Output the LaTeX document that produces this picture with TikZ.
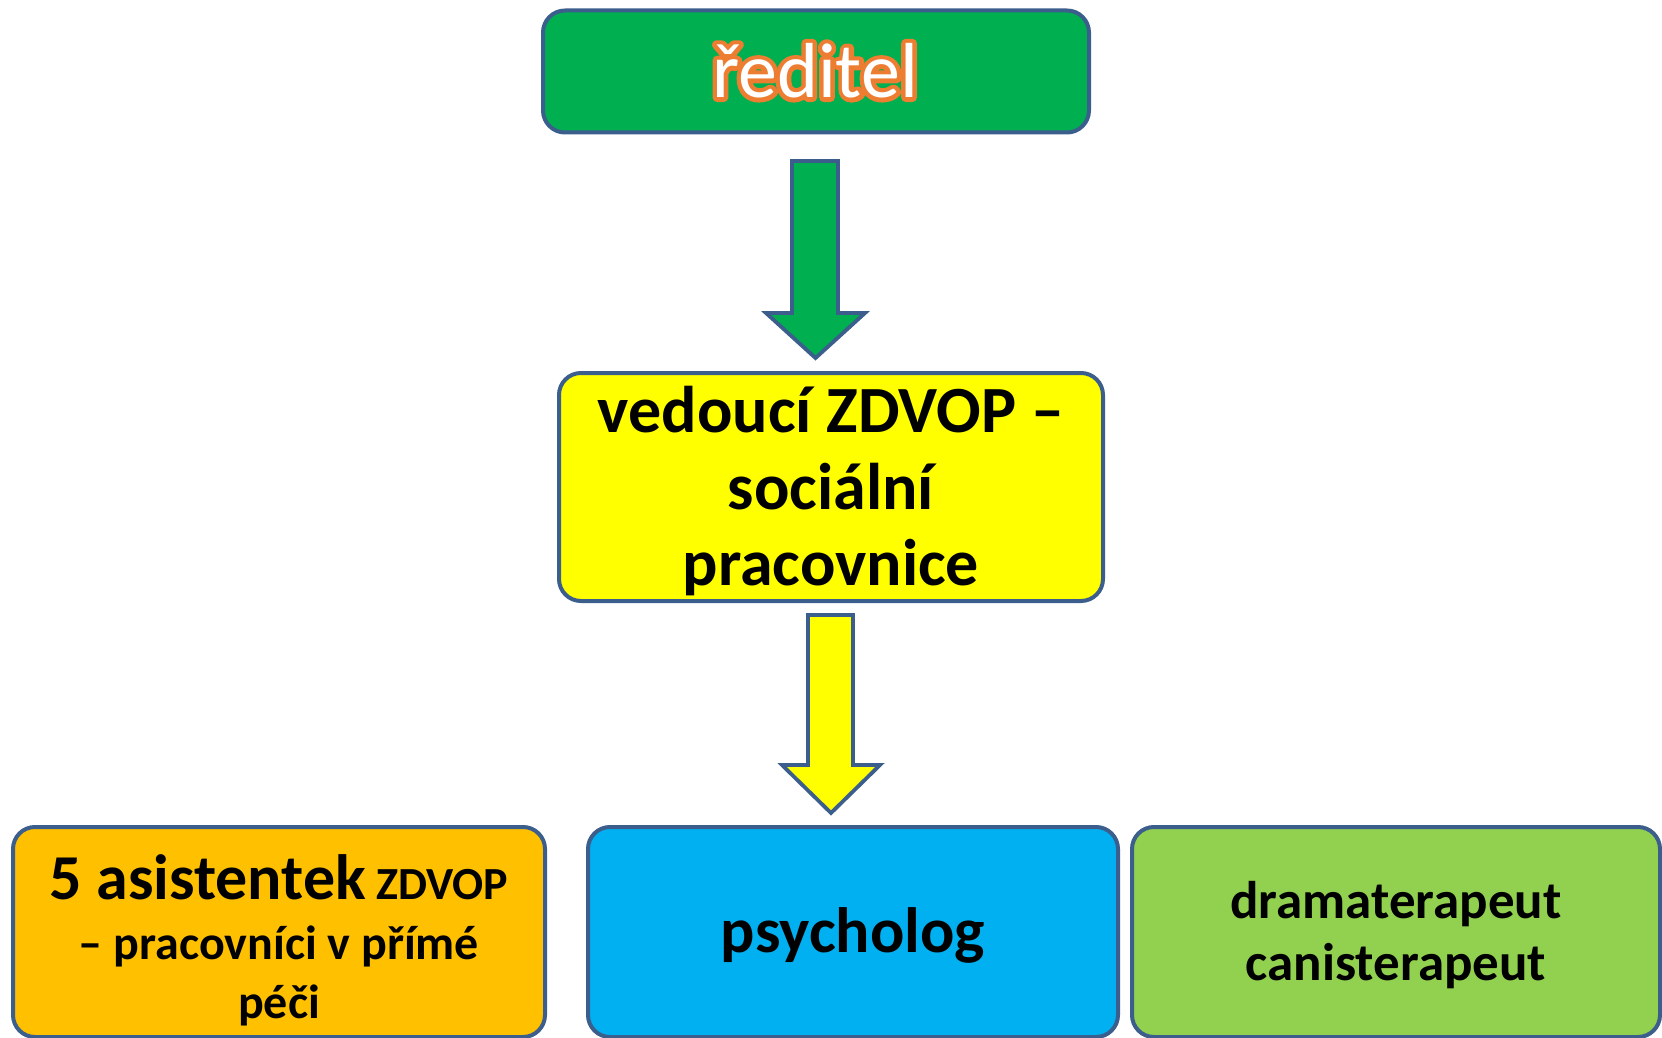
\documentclass[tikz,border=0pt]{standalone}
\usepackage{fontspec}
\setmainfont{Carlito}
\usetikzlibrary{calc}
\definecolor{edge}{RGB}{59,94,140}
\definecolor{cgreen}{RGB}{0,176,80}
\definecolor{cyellow}{RGB}{255,255,0}
\definecolor{corange}{RGB}{255,192,0}
\definecolor{cblue}{RGB}{0,176,240}
\definecolor{clgreen}{RGB}{146,208,80}
\definecolor{glow}{RGB}{237,125,49}
\newcommand{\strokedtext}[1]{\special{pdf:literal direct 2 Tr 4.5 w 1 j}#1\special{pdf:literal direct 0 Tr}}
\begin{document}
\begin{tikzpicture}[x=0.5pt,y=-0.5pt,
  box/.style={draw=edge,line width=2pt,rounded corners=11pt,inner sep=0pt,align=center},
  lbl/.style={anchor=base,inner sep=0pt,font=\bfseries},
  blockarrow/.style={draw=edge,line width=1.9pt,line join=miter}]
\useasboundingbox (0,0) rectangle (1662,1038);
% boxes
\node[box,fill=cgreen,minimum width=273pt,minimum height=61pt] (dir) at (816,71.5) {};
\node[box,fill=cyellow,minimum width=272pt,minimum height=114pt] (ved) at (831,487) {};
\node[box,fill=corange,minimum width=266pt,minimum height=105pt] (asi) at (279,932) {};
\node[box,fill=cblue,minimum width=265pt,minimum height=105pt] (psy) at (853,932) {};
\node[box,fill=clgreen,minimum width=264pt,minimum height=105pt] (dra) at (1396,932) {};
% glowing title
\node[anchor=base,inner sep=0pt,text=glow,font=\fontsize{39}{44}\selectfont] (dirglow) at (815,97.5) {\strokedtext{ředitel}};
\node[anchor=base,inner sep=0pt,text=white,font=\fontsize{39}{44}\selectfont] (dirt) at (815,97.5) {ředitel};
% yellow text
\node[lbl,font=\fontsize{33}{38}\selectfont\bfseries] (ved1) at (831,432) {vedoucí ZDVOP –};
\node[lbl,font=\fontsize{33}{38}\selectfont\bfseries] (ved2) at (831,509) {sociální};
\node[lbl,font=\fontsize{33}{38}\selectfont\bfseries] (ved3) at (831,585) {pracovnice};
% bottom texts
\node[lbl,font=\fontsize{23}{30}\selectfont\bfseries] (asi1) at (279,899) {{\fontsize{32}{30}\selectfont 5 asistentek} ZDVOP};
\node[lbl,font=\fontsize{24}{30}\selectfont\bfseries] (asi2) at (279,959) {– pracovníci v přímé};
\node[lbl,font=\fontsize{24}{30}\selectfont\bfseries] (asi3) at (279,1018) {péči};
\node[lbl,font=\fontsize{32}{36}\selectfont\bfseries] (psyt) at (853,952) {psycholog};
\node[lbl,font=\fontsize{26.5}{30}\selectfont\bfseries] (dra1) at (1396,918) {dramaterapeut};
\node[lbl,font=\fontsize{26.5}{30}\selectfont\bfseries] (dra2) at (1396,980) {canisterapeut};
% block arrows
\draw[blockarrow,fill=cgreen] (792,161) -- (838,161) -- (838,313) -- (865,313) -- (815.5,358) -- (766,313) -- (792,313) -- cycle;
\draw[blockarrow,fill=cyellow] (808,615) -- (853,615) -- (853,765) -- (880,765) -- (831,813) -- (782,765) -- (808,765) -- cycle;
\end{tikzpicture}
\end{document}
